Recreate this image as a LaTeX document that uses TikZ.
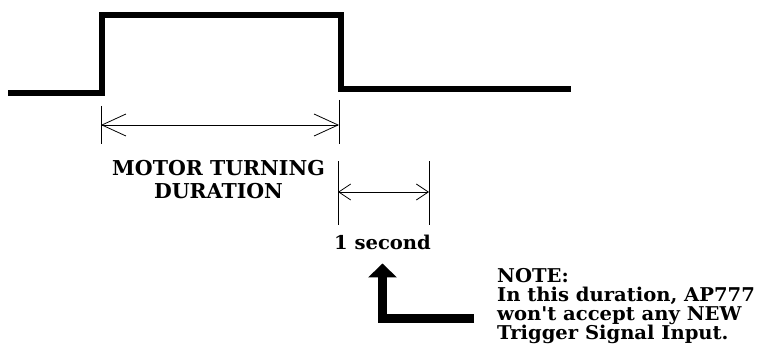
\documentclass[tikz,border=0pt]{standalone}
\usepackage{fontspec}
\setmainfont{DejaVu Serif}
\newfontfamily\notefont[FakeStretch=1.03]{DejaVu Serif}
\usetikzlibrary{arrows.meta}

\begin{document}
\begin{tikzpicture}[
    x=1pt,
    y=-1pt,
    signal/.style={line width=5.5pt, line join=miter},
    tick/.style={line width=0.8pt},
    longdim/.style={line width=0.8pt, {Straight Barb[length=24pt, width=22pt]}-{Straight Barb[length=24pt, width=22pt]}},
    shortdim/.style={line width=0.8pt, {Straight Barb[length=12pt, width=16pt]}-{Straight Barb[length=12pt, width=16pt]}},
    bigarrow/.style={line width=9pt, line join=miter, -{Triangle[length=14pt, width=28pt]}},
    every node/.style={inner sep=0pt, font=\notefont\bfseries\fontsize{19}{19}\selectfont}
]
\useasboundingbox (0,0) rectangle (761,345);

%---------------- Signal ----------------
\draw[signal] (8,93) -- (102,93) -- (102,15) -- (341,15) -- (341,89) -- (571,89);

%---------------- Motor turning duration ----------------
\foreach \name/\x/\ytop in {d1l/101/106, d1r/339/100} {
    \draw[tick] (\x,\ytop) -- (\x,144);
    \coordinate (\name) at (\x,125);
}
\draw[longdim] (d1l) -- (d1r);
\node[anchor=base, align=center, font=\bfseries\fontsize{20.5}{23}\selectfont] (motor) at (218.5,198) {MOTOR TURNING\\DURATION};

%---------------- One second ----------------
\foreach \name/\x in {d2l/338, d2r/429} {
    \draw[tick] (\x,161) -- (\x,225);
    \coordinate (\name) at (\x,192);
}
\draw[shortdim] (d2l) -- (d2r);
\node[anchor=base] (sec) at (382.5,249) {1 second};

%---------------- Note ----------------
\node[anchor=base west, align=left] (note) at (497,339) {NOTE:\\In this duration, AP777\\won't accept any NEW\\Trigger Signal Input.};
\coordinate (tail) at (474,318);
\draw[bigarrow] (tail) -| ([yshift=-14pt]sec.south);
\end{tikzpicture}
\end{document}
